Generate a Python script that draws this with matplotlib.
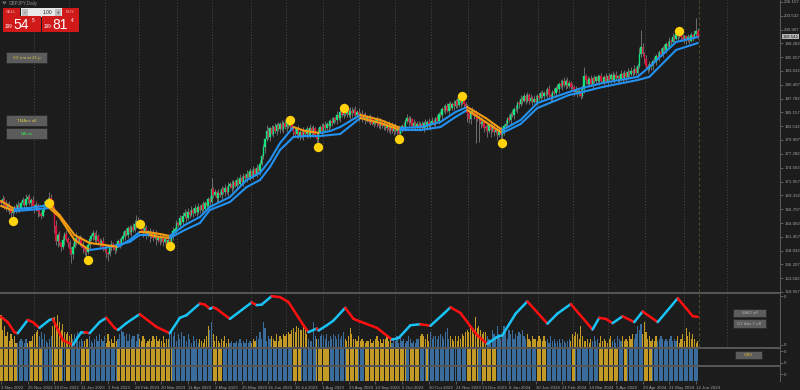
import matplotlib.pyplot as plt
from matplotlib.collections import LineCollection
from matplotlib.patches import Rectangle
import numpy as np

plt.rcParams['font.family'] = ['Liberation Sans', 'DejaVu Sans']

# daily closes, GBPJPY, 3 Nov 2022 .. mid Jun 2024
closes = [
    167.9, 168.7, 167.5, 166.7, 167.6, 166.9, 165.9, 166.4, 167.2, 166.6,
    167.6, 166.9, 167.9, 168.4, 167.5, 168.6, 169.0, 167.9, 168.5, 167.4,
    166.7, 167.5, 166.3, 165.8, 165.5, 166.6, 167.5, 168.3, 167.8, 168.9,
    168.2, 167.0, 163.6, 160.6, 161.9, 160.2, 159.5, 160.9, 162.0, 161.0,
    160.2, 159.2, 158.2, 159.6, 160.6, 161.3, 160.4, 161.2, 159.9, 159.4,
    158.7, 158.5, 159.9, 161.0, 161.6, 162.1, 160.8, 161.7, 160.6, 160.0,
    160.7, 159.5, 159.0, 158.4, 158.2, 159.4, 160.1, 159.3, 158.9, 159.9,
    160.6, 160.1, 161.1, 161.6, 162.5, 161.9, 163.1, 162.3, 163.3, 162.8,
    163.9, 164.5, 163.6, 164.2, 162.7, 162.1, 163.1, 161.8, 162.5, 161.6,
    162.3, 161.3, 162.1, 160.9, 161.5, 160.6, 161.5, 160.4, 161.0, 160.1,
    160.8, 159.8, 161.6, 162.6, 162.9, 164.0, 163.7, 165.0, 164.2, 165.4,
    166.0, 165.0, 166.2, 165.7, 166.6, 165.9, 167.0, 166.1, 167.2, 166.6,
    167.6, 166.8, 167.9, 167.4, 168.6, 168.0, 170.6, 169.5, 169.9, 168.8,
    169.8, 169.4, 170.5, 169.9, 170.8, 170.0, 171.1, 171.6, 170.7, 171.9,
    171.2, 172.2, 171.6, 172.7, 171.8, 173.0, 172.6, 173.5, 172.9, 173.9,
    173.1, 174.3, 173.5, 174.6, 173.9, 175.4, 176.9, 178.5, 180.0, 181.6,
    180.4, 182.1, 181.1, 182.4, 181.6, 182.7, 181.9, 183.0, 181.9, 183.1,
    182.3, 183.5, 182.6, 183.6, 182.1, 181.5, 181.0, 182.0, 180.6, 181.5,
    180.6, 181.6, 181.0, 181.9, 180.9, 182.2, 181.2, 182.1, 180.9, 180.0,
    181.5, 182.4, 181.6, 182.8, 182.2, 183.0, 182.5, 183.6, 183.2, 184.0,
    183.7, 184.7, 184.0, 185.2, 184.7, 185.9, 184.9, 185.7, 184.6, 185.4,
    185.0, 185.6, 184.6, 185.2, 184.3, 184.9, 184.0, 184.6, 183.6, 184.3,
    183.4, 184.1, 183.0, 183.6, 183.1, 183.8, 182.6, 183.4, 182.5, 183.0,
    182.2, 182.8, 181.8, 182.6, 181.6, 182.5, 181.6, 182.0, 181.0, 182.1,
    182.6, 182.3, 183.5, 184.1, 183.3, 183.8, 182.6, 183.1, 182.4, 182.9,
    182.3, 182.9, 182.2, 183.2, 182.4, 183.3, 182.5, 183.1, 183.6, 183.2,
    184.0, 183.6, 184.8, 184.6, 185.8, 185.6, 186.3, 185.5, 186.7, 185.9,
    186.8, 186.3, 187.3, 186.6, 187.6, 186.9, 187.7, 186.8, 186.0, 185.0,
    183.9, 185.1, 185.4, 184.5, 184.9, 183.8, 183.9, 182.9, 183.3, 182.1,
    182.4, 181.6, 182.8, 181.8, 182.5, 181.4, 181.8, 180.9, 181.8, 180.8,
    181.6, 182.6, 183.0, 184.0, 183.7, 184.9, 184.6, 185.8, 185.7, 186.9,
    186.7, 187.7, 187.4, 188.2, 187.4, 188.4, 187.4, 187.9, 187.2, 187.7,
    187.2, 188.2, 187.8, 188.8, 188.3, 188.9, 188.6, 189.6, 188.5, 188.1,
    189.0, 188.8, 189.8, 189.6, 190.6, 190.2, 191.2, 190.3, 191.2, 190.2,
    190.7, 189.9, 190.0, 189.0, 189.4, 188.7, 189.2, 188.3, 189.6, 192.1,
    191.3, 190.6, 191.5, 190.5, 191.6, 191.1, 191.8, 191.1, 192.0, 191.2,
    191.0, 191.9, 191.0, 192.0, 191.5, 192.3, 191.4, 192.3, 191.6, 192.0,
    191.5, 192.5, 191.7, 192.6, 191.8, 192.8, 192.4, 193.1, 192.7, 193.4,
    192.6, 193.9, 196.3, 197.6, 196.2, 195.3, 194.0, 193.4, 194.3, 193.9,
    195.0, 194.8, 195.9, 195.6, 196.7, 196.3, 197.4, 197.1, 198.1, 197.8,
    198.8, 198.5, 199.5, 199.2, 200.1, 199.6, 200.5, 199.4, 199.0, 199.6,
    198.9, 199.4, 198.8, 199.8, 199.4, 200.1, 200.6, 199.5,
]
first_open = 168.2

# wick lengths per bar in steps of 0.35 (hex digits, 10 bars per group)
wick_up = ("1213121212 2112131212 1212112123 2113121212 1212131212 1212121312 "
           "1212112121 1212121212 2322121212 1212121212 1212121212 2121212121 "
           "1212126121 2121212121 1212121212 1212121213 2121212121 2121212121 "
           "1212121212 2121212121 1212131212 2121212121 1212121212 2121212121 "
           "1212121212 2121212121 1212121212 1212121312 2121212121 1212121212 "
           "2121212121 1212121212 2121212121 1212121212 2121212125 1212121212 "
           "2121212121 1212121212 1239212121 1212121212 2121212121 12121272")
wick_dn = ("1221132312 1211212131 2131211121 1242312131 2353121213 2412121212 "
           "1213412121 1211212121 1212121213 1213121212 2312121212 1212121212 "
           "1212121212 2121212121 1212121212 1212121231 1212121212 1212131212 "
           "1212121216 2121212121 1212121212 2121212121 1212121212 1212121412 "
           "2121212121 1212121212 2121212121 1212121215 2312f1c212 1314121312 "
           "7212121212 2121212121 1212121212 2121212121 1212121212 2121212121 "
           "1212121212 2121212121 1212121212 2121212121 1212121212 21212121")

# histogram heights in the oscillator pane (hex digits, 10 bars per group)
hist = ("f8a5736452 2343242335 6785746324 5ae9fc8b76 7564657343 3445324536 "
        "4352634253 4687563645 5364354234 3545343524 4685736475 5364253424 "
        "3245a8c635 3243524232 2324232423 2435474c93 5454363546 5676897a98 "
        "8a96433c54 4565463546 5464574359 6443534323 3423453424 4534243525 "
        "3423542324 4565463745 5456547945 4353546578 7986e9a867 7543865a64 "
        "5a74868465 7685464354 4354353425 3423424323 4365764a53 3424353425 "
        "3432453425 4353435464 6a8b6c7453 4353454343 4534352463 95746423")

# colour runs of the lower panes (start bar, g = gold / b = blue)
run_starts = [0, 10, 18, 25, 31, 37, 39, 42, 48, 53, 70, 103, 127, 133, 175, 180, 189,
              197, 207, 214, 218, 243, 245, 251, 255, 256, 279, 286, 288, 297, 321, 327,
              342, 344, 358, 370, 373, 375, 385, 390]
run_kind = 'gbgbgbgbgbgbgbgbgbgbgbgbgbgbgbgbgbgbgbgb'

# moving averages (bar index, price)
ma_bars = [0, 8, 17, 29, 35, 44, 53, 62, 70, 77, 83, 89, 95, 101, 110, 119, 125, 137,
           147, 155, 161, 167, 175, 182, 191, 197, 203, 215, 227, 239, 251, 263, 272,
           279, 290, 300, 311, 321, 340, 348, 360, 381, 388, 404, 417]
ma_fast = [168.28, 166.76, 166.95, 167.52, 165.62, 161.81, 160.29, 159.91, 159.53,
           160.86, 162.38, 162.30, 162.0, 161.62, 163.71, 165.23, 167.14, 169.04,
           172.28, 173.61, 176.08, 179.32, 182.36, 181.6, 181.22, 181.6, 182.36,
           184.65, 183.7, 182.17, 182.36, 183.32, 185.22, 186.17, 184.08, 181.79,
           183.7, 186.93, 189.03, 189.79, 190.74, 191.9, 193.8, 198.54, 199.5]
ma_slow = [167.33, 166.38, 166.57, 166.95, 165.23, 160.86, 158.95, 159.34, 159.91,
           160.48, 161.81, 161.81, 161.43, 161.24, 162.76, 164.09, 166.57, 168.09,
           170.93, 172.28, 174.75, 178.0, 180.46, 180.65, 180.65, 180.84, 181.03,
           184.08, 183.13, 181.79, 181.79, 182.36, 184.27, 185.6, 183.32, 181.22,
           182.94, 185.98, 188.46, 189.03, 189.98, 191.3, 191.9, 197.02, 198.35]

# swing markers
dot_bars = [7, 29, 52, 83, 101, 173, 190, 205, 238, 276, 300, 406]
dot_prices = [164.47, 167.9, 157.05, 163.9, 159.7, 183.7, 178.6, 185.98, 180.08,
              188.27, 179.32, 200.64]

# oscillator line (bar index, 0..100)
osc_bars = [0, 4, 8, 10, 16, 19, 23, 29, 31, 37, 43, 48, 50, 53, 59, 63, 68, 70, 75,
            83, 93, 101, 107, 111, 119, 122, 125, 127, 129, 137, 150, 153, 156, 162,
            167, 172, 181, 184, 189, 190, 195, 199, 206, 211, 215, 225, 234, 238, 245,
            251, 257, 265, 269, 275, 285, 291, 297, 300, 308, 315, 327, 333, 341, 354,
            358, 362, 366, 372, 379, 384, 393, 405, 414, 417]
osc_vals = [57, 47, 28, 26, 51, 47, 36, 51, 53, 13, 4, 28, 28, 26, 47, 55, 36, 32, 45,
            62, 38, 26, 55, 60, 82, 80, 72, 75, 72, 53, 84, 79, 80, 96,
            94, 85, 41, 28, 35, 31, 41, 50, 74, 53, 48, 36, 14, 17, 41,
            43, 40, 63, 75, 64, 22, 6, 19, 22, 63, 86, 44, 63, 81, 33,
            55, 53, 45, 58, 47, 67, 47, 92, 58, 57]

price_ticks = [206.157, 203.532, 200.907, 198.282, 195.657, 193.032, 190.407, 187.782,
               185.157, 182.532, 179.907, 177.282, 174.582, 171.957, 169.332, 166.707,
               164.082, 161.457, 158.832, 156.207, 153.582, 150.957]
date_labels = ['3 Nov 2022', '25 Nov 2022', '19 Dec 2022', '11 Jan 2023', '2 Feb 2023',
               '24 Feb 2023', '20 Mar 2023', '11 Apr 2023', '3 May 2023', '25 May 2023',
               '16 Jun 2023', '10 Jul 2023', '1 Aug 2023', '23 Aug 2023', '14 Sep 2023',
               '6 Oct 2023', '30 Oct 2023', '21 Nov 2023', '13 Dec 2023', '8 Jan 2024',
               '30 Jan 2024', '21 Feb 2024', '14 Mar 2024', '5 Apr 2024', '29 Apr 2024',
               '21 May 2024', '12 Jun 2024']
month_starts = [20, 41, 63, 83, 106, 127, 150, 171, 193, 215, 236, 258, 280, 300, 322,
                343, 364, 386, 409, 435]
last_price = 199.541

BG = '#1c1c1c'
GRID = '#4a4a4a'
TXT = '#a0a0a0'
UP, DN = '#14e67f', '#d6143c'
BLUE, ORANGE = '#2391f0', '#f39c12'
GOLD, STEEL = '#c49a26', '#3b6d9c'
FS = 3.2

W, H = 800, 390
fig = plt.figure(figsize=(8, 3.9), dpi=100, facecolor=BG)


def box(x0, y0, x1, y1):
    return [x0 / W, 1 - y1 / H, (x1 - x0) / W, (y1 - y0) / H]


ax = fig.add_axes(box(0, 0, 780, 292), facecolor=BG)
ax_osc = fig.add_axes(box(0, 294, 780, 347), facecolor=BG)
ax_b1 = fig.add_axes(box(0, 349, 780, 365), facecolor=BG)
ax_b2 = fig.add_axes(box(0, 367, 780, 381), facecolor=BG)
xlim = (-0.6, 466.2)

n = len(closes)
idx = np.arange(n)
c = np.array(closes)
o = np.r_[first_open, c[:-1]]
wu = np.array([int(ch, 16) for ch in wick_up.replace(' ', '')]) * 0.35
wd = np.array([int(ch, 16) for ch in wick_dn.replace(' ', '')]) * 0.35
hi = np.maximum(o, c) + wu
lo = np.minimum(o, c) - wd

for a in (ax, ax_osc, ax_b1, ax_b2):
    a.set_xlim(*xlim)
    for s in a.spines.values():
        s.set_visible(False)
    a.tick_params(left=False, labelleft=False, bottom=False, labelbottom=False)

for m in month_starts:
    for a in (ax, ax_osc):
        a.axvline(m - 0.5, color=GRID, lw=0.7, ls=(0, (1, 2)), zorder=0)
for a in (ax, ax_osc):
    a.axvline(n - 0.5, color='#4a4a22', lw=0.8, ls=(0, (3, 2)), zorder=0)

# candles
ax.vlines(idx, lo, hi, color='#7a7a7a', lw=0.6, zorder=1)
rising = c >= o
body_col = np.where(rising, UP, DN)
ax.bar(idx, np.maximum(np.abs(c - o), 0.15), bottom=np.minimum(o, c), width=0.9,
       color=body_col, edgecolor=body_col, lw=0.25, zorder=2)

# moving averages, blue while rising, orange while falling
for vals in (ma_slow, ma_fast):
    pts = np.column_stack([ma_bars, vals])
    segs = np.stack([pts[:-1], pts[1:]], axis=1)
    cols = [BLUE if vals[i + 1] >= vals[i] else ORANGE for i in range(len(vals) - 1)]
    ax.add_collection(LineCollection(segs, colors=cols, linewidths=1.5, zorder=3,
                                     capstyle='round'))

ax.scatter(dot_bars, dot_prices, s=45, color='#ffd20a', zorder=5, lw=0)

ax.set_ylim(150.957, 150.957 + 292 * 0.19034)
ax.yaxis.tick_right()
ax.set_yticks(price_ticks)
ax.set_yticklabels([f'{v:.3f}' for v in price_ticks])
ax.tick_params(axis='y', right=True, labelright=True, length=2, width=0.5,
               color='#777777', labelsize=FS, labelcolor=TXT, pad=1.0)
y0, y1 = ax.get_ylim()
ax.text(1.003, (last_price - y0) / (y1 - y0), f'{last_price:.3f}', transform=ax.transAxes,
        fontsize=FS, color='#1c1c1c', va='center', ha='left', clip_on=False,
        bbox=dict(boxstyle='square,pad=0.15', fc='#b5b5b5', ec='none'), zorder=6)

# oscillator pane: histogram gold while the line falls, blue while it rises
seg = np.clip(np.searchsorted(osc_bars, idx, side='right') - 1, 0, len(osc_bars) - 2)
osc_fall = np.array([osc_vals[k + 1] < osc_vals[k] for k in seg])
hv = np.array([int(ch, 16) for ch in hist.replace(' ', '')]) * 4.0
ax_osc.bar(idx, hv, width=0.7, color=np.where(osc_fall, GOLD, STEEL), lw=0, zorder=1)
pts = np.column_stack([osc_bars, osc_vals])
segs = np.stack([pts[:-1], pts[1:]], axis=1)
cols = ['#ff1010' if osc_vals[i + 1] < osc_vals[i] else '#19c3f5'
        for i in range(len(osc_vals) - 1)]
ax_osc.add_collection(LineCollection(segs, colors=cols, linewidths=1.8, zorder=3,
                                     capstyle='round'))
ax_osc.set_ylim(0, 100)
ax_osc.yaxis.tick_right()
ax_osc.set_yticks([4, 96])
ax_osc.set_yticklabels(['0', '0'])
ax_osc.tick_params(axis='y', right=True, labelright=True, length=2, width=0.5,
                   color='#777777', labelsize=FS, labelcolor=TXT, pad=1.0)

# lower panes
run_idx = np.searchsorted(run_starts, idx, side='right') - 1
bar_col = np.array([GOLD if run_kind[k] == 'g' else STEEL for k in run_idx])
for a, ticks in ((ax_b1, [0.15, 0.85]), (ax_b2, [0.5])):
    a.bar(idx, np.ones(n), width=0.8, color=bar_col, lw=0)
    a.set_ylim(0, 1)
    a.yaxis.tick_right()
    a.set_yticks(ticks)
    a.set_yticklabels(['0'] * len(ticks))
    a.tick_params(axis='y', right=True, labelright=True, length=2, width=0.5,
                  color='#777777', labelsize=FS, labelcolor=TXT, pad=1.0)

ax_b2.set_xticks(np.arange(len(date_labels)) * 16)
ax_b2.set_xticklabels(date_labels, ha='left')
ax_b2.tick_params(axis='x', bottom=True, labelbottom=True, length=2.5, width=0.5,
                  color='#777777', labelsize=FS, labelcolor=TXT, pad=1.0)

# overlay: separators, trade panel, buttons
ov = fig.add_axes([0, 0, 1, 1], zorder=10)
ov.set_xlim(0, W)
ov.set_ylim(H, 0)
ov.axis('off')
ov.patch.set_alpha(0)
for y in (292, 347, 365):
    ov.add_patch(Rectangle((0, y), 781, 2, color='#555555', lw=0))
ov.add_patch(Rectangle((779.5, 0), 1.8, 382, color='#5a5a5a', lw=0))

ov.text(9, 3, 'GBPJPY,Daily', fontsize=3.3, color='#8a8a8a', va='center')
ov.plot([3, 6, 4.5, 3], [2, 2, 4, 2], color='#8a8a8a', lw=0.5)
ov.add_patch(Rectangle((3, 8), 17, 8, color='#d01a1a', lw=0))
ov.add_patch(Rectangle((62, 8), 17, 8, color='#d01a1a', lw=0))
ov.add_patch(Rectangle((21, 8), 41, 9, color='#e8e8e8', lw=0))
ov.add_patch(Rectangle((22, 9), 6, 7, color='#bdbdbd', lw=0))
ov.add_patch(Rectangle((55, 9), 6, 7, color='#bdbdbd', lw=0))
ov.text(11.5, 12, 'SELL', fontsize=3.2, color='#f0b0b0', ha='center', va='center')
ov.text(70.5, 12, 'BUY', fontsize=3.2, color='#f0b0b0', ha='center', va='center')
ov.text(25, 12.5, '-', fontsize=3.5, color='#333333', ha='center', va='center')
ov.text(58, 12.5, '+', fontsize=3.5, color='#333333', ha='center', va='center')
ov.text(52, 12.5, '1.00', fontsize=3.5, color='#222222', ha='right', va='center')
for x0, x1, big, sup in ((3, 41, '54', '5'), (42, 79, '81', '4')):
    ov.add_patch(Rectangle((x0, 16), x1 - x0, 16, color='#d01a1a', lw=0))
    ov.text(x0 + 6, 27, '199', fontsize=3.3, color='white', ha='center', va='center')
    ov.text(x0 + 18.5, 25, big, fontsize=10, color='white', ha='center', va='center')
    ov.text(x0 + 30, 20, sup, fontsize=3.5, color='white', ha='center', va='center')

buttons = [((6, 52, 47, 63), 'XX ma at 21 p', '#d2c24a'),
           ((6, 115, 47, 126), 'TMAcx off', '#d2c24a'),
           ((6, 128, 47, 139), 'HA-on', '#3ee04a'),
           ((733, 309, 766, 317), 'MAD off', '#a8a8a8'),
           ((733, 319, 766, 328), 'DZ Adx T-off', '#a8a8a8'),
           ((735, 351, 762, 359), 'OBV', '#d8b22c')]
for (x0, y0, x1, y1), label, col in buttons:
    ov.add_patch(Rectangle((x0, y0), x1 - x0, y1 - y0, fc='#5c5c5c', ec='#2a2a2a',
                           lw=0.6))
    ov.text((x0 + x1) / 2, (y0 + y1) / 2 + 0.3, label, fontsize=3.2, color=col,
            ha='center', va='center')

fig.savefig('out.png', dpi=100, facecolor=BG)
